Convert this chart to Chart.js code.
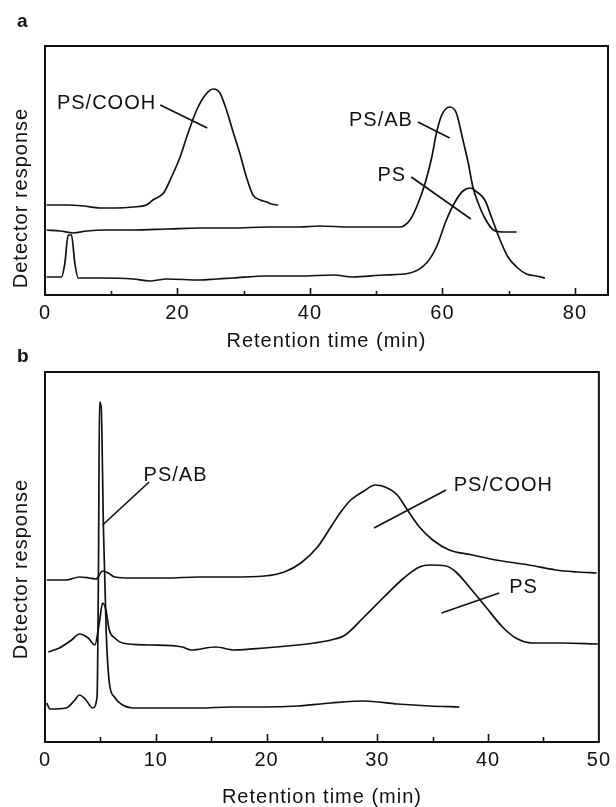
<!DOCTYPE html>
<html><head><meta charset="utf-8">
<script src="https://cdn.jsdelivr.net/npm/chart.js@4.4.0/dist/chart.umd.min.js"></script>
<style>
html,body{margin:0;padding:0;background:#fff;width:616px;height:807px;overflow:hidden;}
.box{position:absolute;left:0;width:616px;}
#wa{top:0;height:360px;}
#wb{top:340px;height:467px;}
</style></head><body>
<div class="box" id="wa"><canvas id="ca"></canvas></div>
<div class="box" id="wb"><canvas id="cb"></canvas></div>
<script>
// ---------- Panel a : retention time (min) vs detector response (arb.) ----------
const aTicks = [0, 20, 40, 60, 80];
const aCoohX = [0.25,3.3,5.8,8.3,10.8,13.3,15.3,16.3,17.9,19.1,20.4,21.6,22.9,24.2,25.4,26.4,27.4,28.4,29.4,30.4,31.4,32.5,33.5,34.2,35.2];
const aCoohY = [90,90,89,87,87,88,90,95,102,118,138,162,185,200,206,202,185,163,142,118,100,95,93,91,90];
const aAbX = [0.25,2.3,4.3,6.3,9.3,13.3,18.4,23.4,28.4,33.5,38.5,41.5,46.0,53.6,55.1,56.1,57.4,58.4,59.1,59.9,61.1,62.1,63.1,63.9,64.6,65.4,66.4,67.7,69.2,71.2];
const aAbY = [65,64,62,64,65,65,66,67,67,68,68,69,68,68,75,88,112,138,162,180,188,182,155,132,108,92,77,65,63,63];
const aPsX = [0.25,2.5,3.0,3.5,4.0,4.5,5.0,8.3,13.3,15.8,18.4,23.4,25.9,28.4,33.5,38.5,43.5,46.5,51.1,55.1,57.6,59.1,60.6,61.9,63.1,64.2,65.2,66.4,67.4,68.7,69.9,71.2,72.7,74.2,75.5];
const aPsY = [18,18,32,60,60,32,17,17,16,14,16,15,16,17,19,19,20,18,20,22,32,48,75,93,104,107,103,95,78,55,38,28,21,19,17];
const aLeadCooh = [[17.4,190],[24.5,167]];
const aLeadAb = [[56.3,173],[61.1,157]];
const aLeadPs = [[55.3,118],[64.3,76]];

// ---------- Panel b ----------
const bTicks = [0, 10, 20, 30, 40, 50];
const bCoohX = [0.15,1.9,3.1,4.0,4.6,5.2,5.7,6.3,7.9,10.9,13.9,16.8,19.8,21.6,23.1,24.6,25.8,26.7,27.6,28.8,29.8,30.7,31.8,32.6,33.8,35.0,36.5,38.6,40.7,43.7,46.1,48.1,49.8];
const bCoohY = [162,162,165,164,163,171,169,165,164,164,165,165,166,170,179,195,215,230,242,251,257,255,247,234,215,202,192,187,182,177,172,170,169];
const bPsX = [0.3,1.3,2.4,3.1,3.9,4.5,4.9,5.2,5.5,5.8,6.3,7.0,9.4,12.4,13.2,15.4,17.1,19.8,22.8,24.3,25.8,27.1,28.8,30.6,32.4,33.8,34.7,36.2,37.1,38.3,39.8,41.3,42.5,44.0,46.7,49.9];
const bPsY = [90,94,102,108,104,97,119,139,132,112,104,99,97,95,92,95,92,94,97,99,102,107,125,145,164,175,177,176,170,155,135,115,104,99,99,98];
const bAbX = [0.15,0.45,1.9,2.7,3.1,3.7,4.3,4.7,4.83,4.92,5.07,5.28,5.52,5.81,6.26,7.0,7.9,10.9,13.9,16.8,19.8,22.8,25.8,28.8,31.8,34.7,37.4];
const bAbY = [39,33,34,42,47,42,34,45,179,340,335,212,112,59,45,37,34,34,34,35,35,36,39,41,38,36,35];
const bLeadAb = [[9.4,260],[5.2,217]];
const bLeadCooh = [[36.2,252],[29.7,214]];
const bLeadPs = [[41.0,149],[35.8,129]];

const FONT = '"Liberation Sans", Arial, Helvetica, sans-serif';
const INK = '#111111';
Chart.defaults.font.family = FONT;
Chart.defaults.font.size = 20;
Chart.defaults.color = INK;

const pts = (xs, ys) => xs.map((v, i) => ({x: v, y: ys[i]}));
const seg = (p) => p.map(q => ({x: q[0], y: q[1]}));
const curve = (label, xs, ys) => ({label, data: pts(xs, ys), borderColor: INK, borderWidth: 1.7,
  pointRadius: 0, cubicInterpolationMode: 'monotone', fill: false});
const leader = (label, p) => ({label, data: seg(p), borderColor: INK, borderWidth: 1.7, pointRadius: 0, fill: false, tension: 0});

const deco = {
  id: 'deco',
  beforeDraw(chart) { try { chart.ctx.letterSpacing = '1px'; } catch (e) {} },
  afterDatasetsDraw(chart, args, o) {
    const {ctx, chartArea: a, scales: {x, y}} = chart;
    ctx.save();
    ctx.strokeStyle = INK;
    ctx.lineWidth = 2;
    ctx.strokeRect(a.left, a.top, a.right - a.left, a.bottom - a.top);
    ctx.lineWidth = 1.6;
    const tick = (v, len) => {
      const px = Math.round(x.getPixelForValue(v)) + 0.5;
      ctx.beginPath(); ctx.moveTo(px, a.bottom); ctx.lineTo(px, a.bottom - len); ctx.stroke();
    };
    o.major.forEach(v => tick(v, o.majorLen));
    o.minor.forEach(v => tick(v, o.minorLen));
    ctx.fillStyle = INK;
    ctx.font = '20px ' + FONT;
    ctx.textAlign = 'left';
    ctx.textBaseline = 'middle';
    o.labels.forEach(l => ctx.fillText(l.t, x.getPixelForValue(l.x), y.getPixelForValue(l.y)));
    ctx.font = 'bold 19px ' + FONT;
    ctx.textBaseline = 'alphabetic';
    ctx.fillText(o.letter, o.letterPos[0], o.letterPos[1]);
    ctx.translate(o.yTitlePos[0], o.yTitlePos[1]);
    ctx.rotate(-Math.PI / 2);
    ctx.textAlign = 'center';
    ctx.textBaseline = 'middle';
    ctx.font = '20px ' + FONT;
    ctx.fillText('Detector response', 0, 0);
    ctx.restore();
  }
};

function makeChart(id, datasets, xMax, yMax, ticksArr, step, pad, titlePadB, decoOpts) {
  return new Chart(document.getElementById(id), {
    type: 'line',
    data: {datasets},
    plugins: [deco],
    options: {
      responsive: true, maintainAspectRatio: false, animation: false, devicePixelRatio: 1,
      layout: {padding: pad},
      plugins: {legend: {display: false}, tooltip: {enabled: false}, deco: decoOpts},
      scales: {
        x: {
          type: 'linear', min: 0, max: xMax,
          grid: {display: false, drawTicks: false},
          border: {display: false},
          ticks: {stepSize: step, includeBounds: false, padding: 6, maxRotation: 0, autoSkip: false,
            callback: (v) => ticksArr.includes(v) ? String(v) : ''},
          title: {display: true, text: 'Retention time (min)', font: {size: 20, lineHeight: 1},
            padding: {top: 0, bottom: titlePadB}},
          afterFit: (s) => { s.height = 65; }
        },
        y: {display: false, min: 0, max: yMax}
      }
    }
  });
}

makeChart('ca', [
  curve('PS/COOH', aCoohX, aCoohY),
  curve('PS/AB', aAbX, aAbY),
  curve('PS', aPsX, aPsY),
  leader('lead PS/COOH', aLeadCooh),
  leader('lead PS/AB', aLeadAb),
  leader('lead PS', aLeadPs)
], 85, 249, aTicks, 20, {top: 46, right: 8, bottom: 0, left: 45}, 9, {
  major: [20, 40, 60, 80], minor: [10, 30, 50, 70], majorLen: 7, minorLen: 4,
  labels: [{t: 'PS/COOH', x: 1.8, y: 192}, {t: 'PS/AB', x: 45.9, y: 175}, {t: 'PS', x: 50.2, y: 120}],
  letter: 'a', letterPos: [17, 27], yTitlePos: [21, 198]
});

makeChart('cb', [
  curve('PS/COOH', bCoohX, bCoohY),
  curve('PS', bPsX, bPsY),
  curve('PS/AB', bAbX, bAbY),
  leader('lead PS/AB', bLeadAb),
  leader('lead PS/COOH', bLeadCooh),
  leader('lead PS', bLeadPs)
], 50, 370, bTicks, 10, {top: 32, right: 12, bottom: 0, left: 45}, 0, {
  major: [10, 20, 30, 40], minor: [5, 15, 25, 35, 45], majorLen: 8, minorLen: 5,
  labels: [{t: 'PS/AB', x: 8.9, y: 267}, {t: 'PS/COOH', x: 36.9, y: 257}, {t: 'PS', x: 41.9, y: 155}],
  letter: 'b', letterPos: [17, 22], yTitlePos: [21, 229]
});
</script>
</body></html>
